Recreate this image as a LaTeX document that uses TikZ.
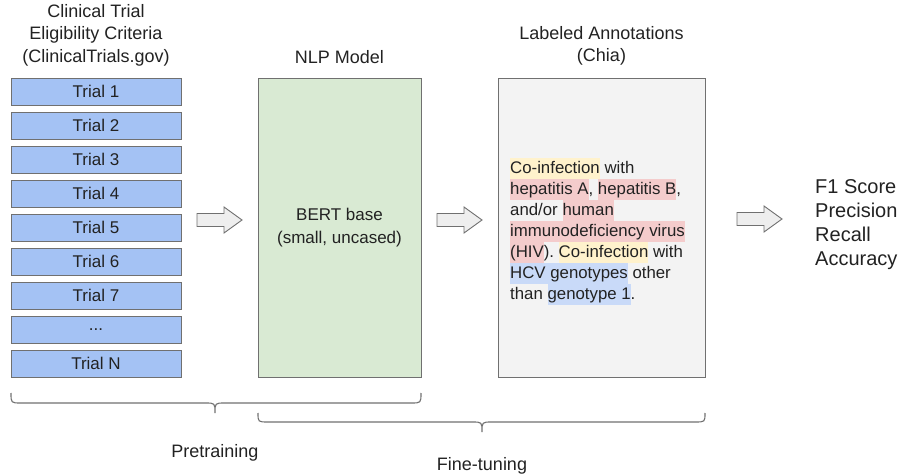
\documentclass[tikz,border=0pt]{standalone}
\usepackage{fontspec}
\setmainfont{Liberation Sans}
\frenchspacing

\definecolor{inktext}{RGB}{34,34,34}
\definecolor{edgegray}{RGB}{112,112,112}
\definecolor{trialfill}{RGB}{164,194,244}
\definecolor{modelfill}{RGB}{217,234,211}
\definecolor{annofill}{RGB}{243,243,243}
\definecolor{arrowfill}{RGB}{238,238,238}
\definecolor{hly}{RGB}{255,242,204}
\definecolor{hlr}{RGB}{244,204,204}
\definecolor{hlb}{RGB}{201,218,248}

% highlighted span: full line-height colour band behind the words
\newcommand\hlspan[2]{{\setlength{\fboxsep}{0pt}\colorbox{#1}{\rule[-5.5pt]{0pt}{21pt}#2}}}
\newcommand\lnstrut{\rule[-5.5pt]{0pt}{21pt}}
\newcommand\moretrials{...}
% hollow block arrow starting at the named coordinate #1 (tail, mid-height)
\newcommand\blockarrowat[1]{%
  \draw[blockarrow] (#1) ++(0,-6.5) -- ++(27,0) -- ++(0,-6.5) -- ++(18,13)
    -- ++(-18,13) -- ++(0,-6.5) -- ++(-27,0) -- cycle;}

\tikzset{
  base/.style={text=inktext, font=\fontsize{17}{22.5}\selectfont},
  headfont/.style={text=inktext, font=\fontsize{18}{22.5}\selectfont},
  trialbox/.style={base, draw=edgegray, fill=trialfill, line width=0.9pt,
    minimum width=170pt, minimum height=27pt, inner sep=0pt},
  bigbox/.style={base, draw=edgegray, line width=0.9pt,
    minimum width=#1, minimum height=299pt, inner sep=0pt, align=center},
  blockarrow/.style={draw=edgegray, fill=arrowfill, line width=0.9pt, line join=miter},
  header/.style={headfont, align=center, inner sep=0pt},
  braceline/.style={draw=edgegray, line width=1.1pt},
}

\begin{document}
\begin{tikzpicture}[x=1pt, y=-1pt]
\useasboundingbox (0,0) rectangle (906,476);

% data column
\node[header] (hdata) at (96,35) {Clinical Trial\\Eligibility Criteria\\(ClinicalTrials.gov)};
\foreach \i/\t in {1/Trial 1,2/Trial 2,3/Trial 3,4/Trial 4,5/Trial 5,6/Trial 6,7/Trial 7,8/\moretrials,9/Trial N}{
  \pgfmathsetmacro\yy{91.5+(\i-1)*34}
  \node[trialbox] (t\i) at (96,\yy) {\t};
}

% model column
\node[header] (hmodel) at (339.5,57) {NLP Model};
\node[bigbox=163pt, fill=modelfill] (nlp) at (339.5,227.5) {BERT base\\(small, uncased)};

% annotation column
\node[header] (hanno) at (601.5,46) {Labeled Annotations\\(Chia)};
\node[bigbox=207pt, fill=annofill] (anno) at (601.5,227.5) {};
\node[text=inktext, anchor=north west, inner sep=0pt, align=left,
      font=\fontsize{16.8}{21}\selectfont] (annotext) at (510,157.5) {%
\hlspan{hly}{Co-infection} with\\
\hlspan{hlr}{hepatitis A}, \hlspan{hlr}{hepatitis B},\\
\lnstrut and/or \hlspan{hlr}{human}\\
\hlspan{hlr}{immunodeficiency virus}\\
\hlspan{hlr}{(HIV}). \hlspan{hly}{Co-infection} with\\
\hlspan{hlb}{HCV genotypes} other\\
\lnstrut than \hlspan{hlb}{genotype 1}.};

% metrics
\node[text=inktext, anchor=west, inner sep=0pt, align=left,
      font=\fontsize{20}{24}\selectfont] (metrics) at (815,225) {F1 Score\\Precision\\Recall\\Accuracy};

% flow arrows between the columns
\coordinate (a1) at (197,220);
\coordinate (a2) at (437,220);
\coordinate (a3) at (737,219);
\blockarrowat{a1}
\blockarrowat{a2}
\blockarrowat{a3}

% stage braces
\draw[braceline] (11,393) .. controls (11,403) .. (21,403) -- (205,403)
  .. controls (215,403) .. (215,413) .. controls (215,403) .. (225,403)
  -- (411,403) .. controls (421,403) .. (421,393);
\draw[braceline] (258,413) .. controls (258,422) .. (268,422) -- (472,422)
  .. controls (482,422) .. (482,432) .. controls (482,422) .. (492,422)
  -- (695,422) .. controls (705,422) .. (705,413);
\node[header] (pre) at (215,453) {Pretraining};
\node[header] (fine) at (482,466) {Fine-tuning};
\end{tikzpicture}
\end{document}
